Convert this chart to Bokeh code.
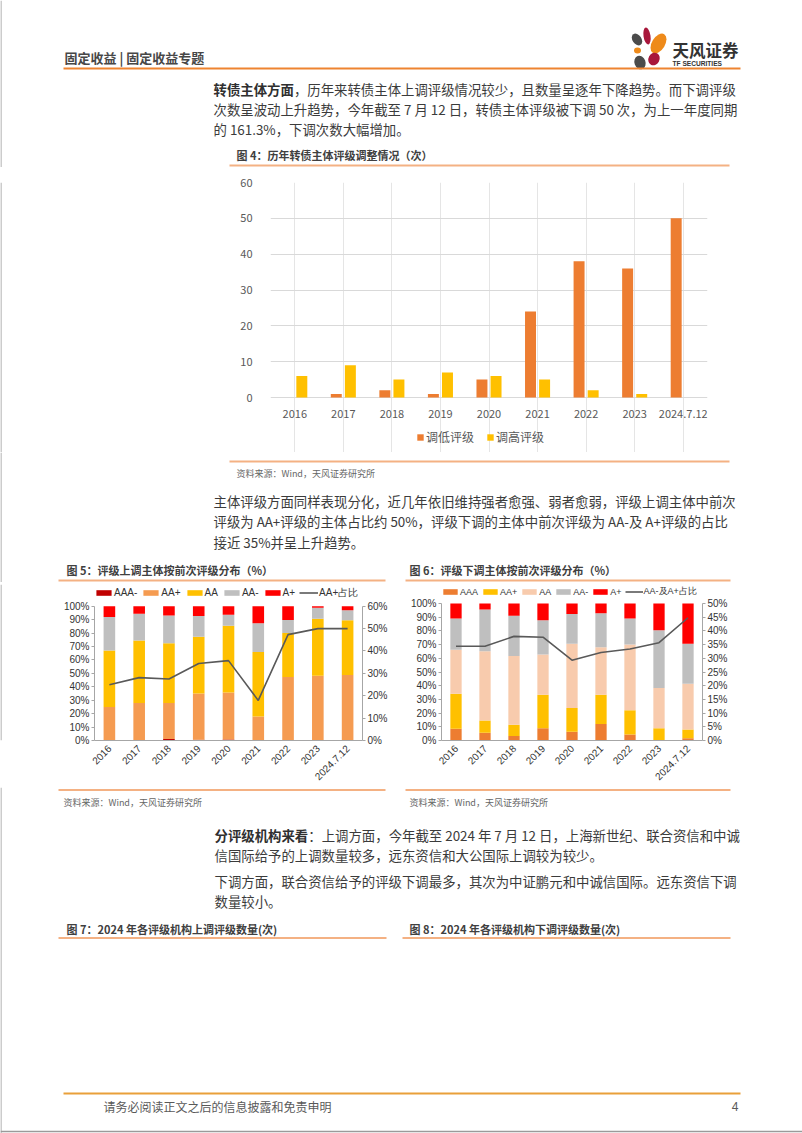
import math
from bokeh.plotting import figure
from bokeh.layouts import column, row
from bokeh.models import (Range1d, FactorRange, LinearAxis, Legend, LegendItem,
                          PrintfTickFormatter, FixedTicker, Spacer, ColumnDataSource)
from bokeh.transform import dodge
from bokeh.core.properties import value
from bokeh.embed import file_html
from bokeh.resources import INLINE

# ---------------- data ----------------
years = ["2016", "2017", "2018", "2019", "2020", "2021", "2022", "2023", "2024.7.12"]
down_counts = [0, 1, 2, 1, 5, 24, 38, 36, 50]      # 调低评级
up_counts = [6, 9, 5, 7, 6, 5, 2, 1, 0]            # 调高评级
count_ticks = [0, 10, 20, 30, 40, 50, 60]

# 图5 评级上调主体按前次评级分布 (%)
up_AAAm = [0, 0, 1.2, 0.5, 0.8, 0, 0, 0, 0]
up_AAp = [25, 28, 26.8, 34.5, 35, 17.8, 47.3, 48.3, 48.8]
up_AA = [42, 46.4, 44.4, 42.3, 49.6, 48.1, 32.7, 42.4, 40.7]
up_AAm = [25, 20, 20.6, 15.4, 8.3, 21.4, 9.8, 8.1, 7.5]
up_Ap = [8, 5.6, 7, 7.3, 6.3, 12.7, 10.2, 1.2, 3]
up_share = [24.9, 28.1, 27.5, 34.4, 35.7, 17.9, 47.3, 50, 50]   # AA+占比

# 图6 评级下调主体按前次评级分布 (%)
dn_AAA = [8.5, 5.6, 3.2, 9, 6.3, 12, 4.4, 0, 1.7]
dn_AAp = [25.6, 9, 8.3, 24.4, 17.4, 21.4, 17.6, 9, 6.3]
dn_AA = [32.2, 50.5, 50.2, 29.3, 47, 34.6, 48, 29.3, 33.5]
dn_AAm = [22.7, 30.5, 29.3, 25.1, 21.7, 24.9, 19, 42.2, 29.2]
dn_Ap = [11, 4.4, 9, 12.2, 7.6, 7.1, 11, 19.5, 29.3]
dn_share = [34.4, 34.4, 38, 37.7, 29.3, 32.1, 33.4, 35.7, 44.8]  # AA-及A+占比

up_labels = ["AAA-", "AA+", "AA", "AA-", "A+"]
dn_labels = ["AAA", "AA+", "AA", "AA-", "A+"]

# ---------------- styles ----------------
W = 802
CJK = "Noto Sans CJK SC"
LAT = "Liberation Sans"
BODY = "#3b3b3b"
FS = 13.4
LIGHT_OR = "#F4B183"
EDGE = "#9a9a9a"


def page_fig(y0, y1, w=W):
    p = figure(width=w, height=y1 - y0, x_range=Range1d(0, w), y_range=Range1d(y1, y0),
               output_backend="svg", toolbar_location=None, min_border=0,
               x_axis_type=None, y_axis_type=None)
    p.outline_line_color = None
    p.background_fill_color = "white"
    p.border_fill_color = "white"
    # left page edge
    p.segment(x0=[0.5], y0=[y0], x1=[0.5], y1=[y1], line_color=EDGE, line_width=1)
    return p


def txt(p, x, y, s, size, color=BODY, font=CJK, style="normal", align="left"):
    p.text(x=[x], y=[y], text=[s], text_font=value(font), text_font_size=f"{size}px",
           text_color=color, text_font_style=style, text_align=align, text_baseline="middle")


def hline(p, x0, x1, y, color, w=2):
    p.segment(x0=[x0], y0=[y], x1=[x1], y1=[y], line_color=color, line_width=w)


# ---------------- block A: header + paragraph ----------------
pa = page_fig(0, 167)
txt(pa, 64, 57, "固定收益 | 固定收益专题", 13, color="#474747", style="bold")
# logo
pa.ellipse(x=[636.5, 646.5, 658, 637, 653.5, 639.5], y=[39, 35.5, 43, 50, 58.5, 62],
           width=[9, 7, 13, 7, 11, 11], height=[13, 17, 22, 6, 13, 14],
           angle=[0.6, 0.15, -0.55, 0, -0.5, 0.35],
           fill_color=["#4b4b4b", "#A8173B", "#EE8A1A", "#EE8A1A", "#A8173B", "#4b4b4b"],
           line_color=None)
txt(pa, 672, 49.5, "天风证券", 16.5, color="#333333", style="bold")
txt(pa, 672, 62.5, "TF SECURITIES", 6.6, color="#333333", font=LAT, style="bold")
hline(pa, 63, 740, 68, "#EE8430", 2)
txt(pa, 213, 88, "转债主体方面", FS, color="#2f2f2f", style="bold")
txt(pa, 213 + 6 * FS, 88, "，历年来转债主体上调评级情况较少，且数量呈逐年下降趋势。而下调评级", FS)
txt(pa, 213, 108, "次数呈波动上升趋势，今年截至 7 月 12 日，转债主体评级被下调 50 次，为上一年度同期", FS)
txt(pa, 213, 128, "的 161.3%，下调次数大幅增加。", FS)
txt(pa, 236, 154, "图 4：历年转债主体评级调整情况（次）", 11, color="#404040", style="bold")
hline(pa, 229, 729, 165, LIGHT_OR, 2)

# ---------------- chart 4 ----------------
# frame: top at page y 182 (value 60), zero at page y 397, frame bottom at page y 452
y4_start = -60 * (452 - 397) / (397 - 182)
src4 = ColumnDataSource(dict(year=years, down=down_counts, up=up_counts))
p4 = figure(width=500, height=285, x_range=FactorRange(factors=years),
            y_range=Range1d(y4_start, 60), x_axis_location=None,
            output_backend="svg", toolbar_location=None,
            min_border_left=41, min_border_right=22, min_border_top=15, min_border_bottom=0)
p4.outline_line_color = None
r_down = p4.vbar(x=dodge("year", -0.145, range=p4.x_range), top="down", width=0.226,
                 source=src4, fill_color="#ED7D31", line_color=None)
r_up = p4.vbar(x=dodge("year", 0.145, range=p4.x_range), top="up", width=0.226,
               source=src4, fill_color="#FFC000", line_color=None)
p4.text(x="year", y=0, text="year", source=src4, y_offset=16, text_align="center",
        text_baseline="middle", text_font=value(CJK), text_font_size="11px", text_color="#595959")
p4.ygrid.grid_line_color = "#D9D9D9"
p4.yaxis.ticker = FixedTicker(ticks=count_ticks)
ax = p4.yaxis[0]
ax.major_label_text_font = CJK
ax.major_label_text_font_size = "11px"
ax.major_label_text_color = "#595959"
ax.major_tick_line_color = None
ax.minor_tick_line_color = None
ax.axis_line_color = None
ax.major_label_standoff = 12
leg4 = Legend(items=[LegendItem(label="调低评级", renderers=[r_down]),
                     LegendItem(label="调高评级", renderers=[r_up])],
              orientation="horizontal", location=(146, 7),
              label_text_font=CJK, label_text_font_size="12px", label_text_color="#595959",
              glyph_width=8, glyph_height=8, label_standoff=2, spacing=12, padding=0, margin=0,
              label_width=0, label_height=14, border_line_color=None, background_fill_alpha=0)
p4.add_layout(leg4)

# ---------------- block C ----------------
pc = page_fig(452, 582)
hline(pc, 229, 729, 461, LIGHT_OR, 2)
txt(pc, 236, 472.5, "资料来源：Wind，天风证券研究所", 9, color="#666666")
txt(pc, 213, 500, "主体评级方面同样表现分化，近几年依旧维持强者愈强、弱者愈弱，评级上调主体中前次", FS)
txt(pc, 213, 520.5, "评级为 AA+评级的主体占比约 50%，评级下调的主体中前次评级为 AA-及 A+评级的占比", FS)
txt(pc, 213, 541, "接近 35%并呈上升趋势。", FS)
txt(pc, 66, 569, "图 5：评级上调主体按前次评级分布（%）", 11, color="#404040", style="bold")
txt(pc, 409, 569, "图 6：评级下调主体按前次评级分布（%）", 11, color="#404040", style="bold")
hline(pc, 58, 385, 580, LIGHT_OR, 2)
hline(pc, 405, 730, 580, LIGHT_OR, 2)


# ---------------- charts 5 & 6 ----------------
def style_axis(ax):
    ax.major_label_text_font = LAT
    ax.major_label_text_font_size = "10px"
    ax.major_label_text_color = "#333333"
    ax.axis_line_color = "#A6A6A6"
    ax.major_tick_line_color = "#A6A6A6"
    ax.major_tick_in = 0
    ax.major_tick_out = 3
    ax.minor_tick_line_color = None
    ax.major_label_standoff = 2


def stacked_chart(width, bl, br, bb, px100, keys, cols, colors, labels, share, share_label,
                  rmax, rstep, legend_loc, spacing, lfont, gw):
    fig_h = 205
    top_b = 2
    frame_h = fig_h - top_b - bb
    ext = frame_h / px100     # frame extends above 100% to hold the legend
    data = dict(year=years, share=share)
    for k, c in zip(keys, cols):
        data[k] = c
    src = ColumnDataSource(data)
    p = figure(width=width, height=fig_h, x_range=FactorRange(factors=years),
               y_range=Range1d(0, 100 * ext),
               output_backend="svg", toolbar_location=None,
               min_border_left=bl, min_border_right=br, min_border_top=top_b, min_border_bottom=bb)
    p.outline_line_color = None
    p.extra_y_ranges = {"r": Range1d(0, rmax * ext)}
    rs = p.vbar_stack(keys, x="year", width=0.39, fill_color=colors, line_color=None, source=src)
    ln = p.line(x="year", y="share", source=src, y_range_name="r", line_color="#595959",
                line_width=1.6)
    p.xgrid.visible = False
    p.ygrid.visible = False
    style_axis(p.xaxis[0])
    style_axis(p.yaxis[0])
    p.xaxis.major_tick_line_color = None
    p.xaxis.major_label_orientation = math.pi / 4
    p.xaxis.major_label_standoff = 3
    p.yaxis.ticker = FixedTicker(ticks=list(range(0, 101, 10)))
    p.yaxis.formatter = PrintfTickFormatter(format="%d%%")
    p.yaxis.bounds = (0, 100)
    rax = LinearAxis(y_range_name="r", ticker=FixedTicker(ticks=list(range(0, rmax + 1, rstep))),
                     formatter=PrintfTickFormatter(format="%d%%"), bounds=(0, rmax))
    style_axis(rax)
    p.add_layout(rax, "right")
    items = [LegendItem(label=l, renderers=[r]) for l, r in zip(labels, rs)]
    items.append(LegendItem(label=share_label, renderers=[ln]))
    leg = Legend(items=items, orientation="horizontal", location=legend_loc,
                 label_text_font=LAT, label_text_font_size=lfont, label_text_color="#333333",
                 glyph_width=gw, glyph_height=7, label_standoff=1, spacing=spacing, padding=0,
                 margin=0, label_width=0, label_height=12, border_line_color=None,
                 background_fill_alpha=0)
    p.add_layout(leg)
    return p


up_colors = ["#C00000", "#F59B51", "#FFC000", "#BFBFBF", "#FF0000"]
dn_colors = ["#ED7D31", "#FFC000", "#F8CBAD", "#BFBFBF", "#FF0000"]
# chart 5: 100% at page y 606, 0% at 742
p5 = stacked_chart(334, 36, 30, 45, 136, ["AAAm", "AAp", "AA", "AAm", "Ap"],
                   [up_AAAm, up_AAp, up_AA, up_AAm, up_Ap], up_colors, up_labels, up_share,
                   "AA+占比", 60, 10, (0, 140.3), 4, "10px", 19)
# chart 6: 100% at page y 603, 0% at 740
p6 = stacked_chart(348, 49, 38, 47, 137, ["AAA", "AAp", "AA", "AAm", "Ap"],
                   [dn_AAA, dn_AAp, dn_AA, dn_AAm, dn_Ap], dn_colors, dn_labels, dn_share,
                   "AA-及A+占比", 50, 5, (0, 141.7), 3, "9px", 18)

# ---------------- block E ----------------
pe = page_fig(787, 1133)
hline(pe, 58, 385, 789.5, LIGHT_OR, 2)
hline(pe, 405, 730, 789.5, LIGHT_OR, 2)
txt(pe, 63, 801.5, "资料来源：Wind，天风证券研究所", 9, color="#666666")
txt(pe, 409, 801.5, "资料来源：Wind，天风证券研究所", 9, color="#666666")
txt(pe, 214, 834, "分评级机构来看", FS, color="#2f2f2f", style="bold")
txt(pe, 214 + 7 * FS, 834, "：上调方面，今年截至 2024 年 7 月 12 日，上海新世纪、联合资信和中诚", FS)
txt(pe, 214, 854, "信国际给予的上调数量较多，远东资信和大公国际上调较为较少。", FS)
txt(pe, 214, 880.5, "下调方面，联合资信给予的评级下调最多，其次为中证鹏元和中诚信国际。远东资信下调", FS)
txt(pe, 214, 900.5, "数量较小。", FS)
txt(pe, 66, 928.5, "图 7：2024 年各评级机构上调评级数量(次)", 11, color="#404040", style="bold")
txt(pe, 409, 928.5, "图 8：2024 年各评级机构下调评级数量(次)", 11, color="#404040", style="bold")
hline(pe, 58, 386, 937.5, LIGHT_OR, 2)
hline(pe, 402, 730, 937.5, LIGHT_OR, 2)
hline(pe, 63, 740, 1093, "#E9A03A", 2)
txt(pe, 103, 1106, "请务必阅读正文之后的信息披露和免责申明", 12, color="#595959")
txt(pe, 738, 1106, "4", 12, color="#595959", font=LAT, align="right")
hline(pe, 0, W, 1131, EDGE, 1.5)

# left margins of the chart rows (carry the page edge line)
left4 = page_fig(167, 452, w=229)
left56 = page_fig(582, 787, w=58)

layout = column(
    pa,
    row(left4, p4, Spacer(width=73, height=285)),
    pc,
    row(left56, p5, p6, Spacer(width=62, height=205)),
    pe,
)

open("out.html", "w").write(file_html(layout, INLINE))
